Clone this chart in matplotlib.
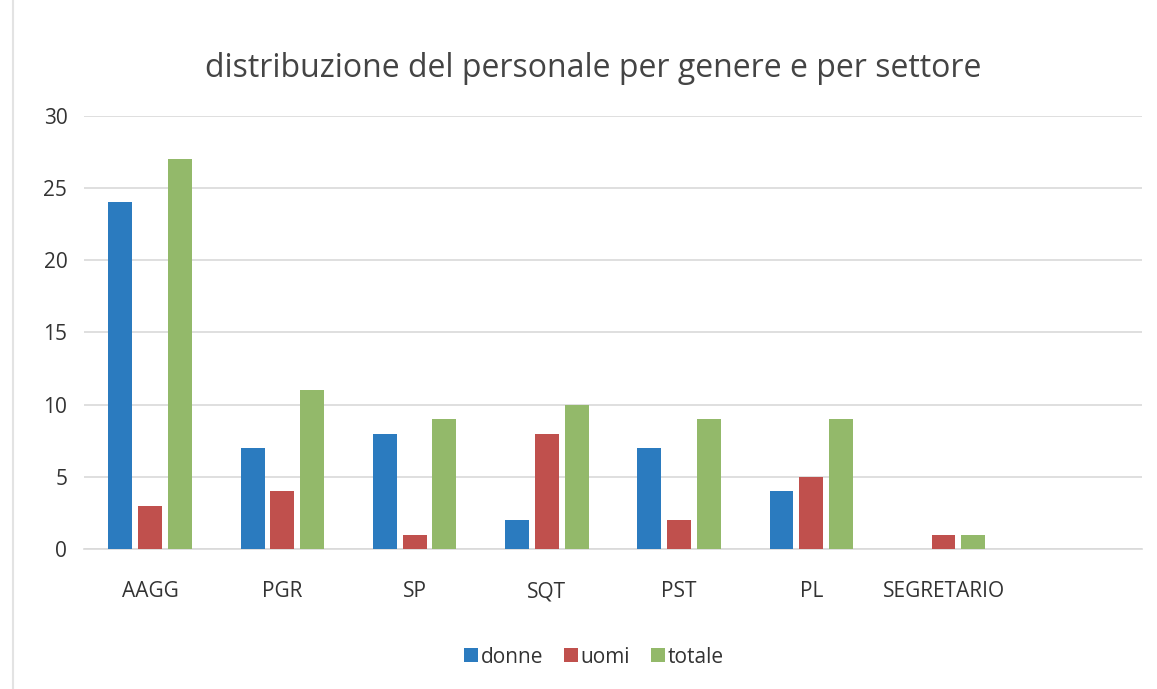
import numpy as np
import matplotlib

matplotlib.use("Agg")
import matplotlib.pyplot as plt

# data (last slot is an empty category)
settori = ["AAGG", "PGR", "SP", "SQT", "PST", "PL", "SEGRETARIO", ""]
donne = [24, 7, 8, 2, 7, 4, 0, 0]
uomi = [3, 4, 1, 8, 2, 5, 1, 0]
totale = [27, 11, 9, 10, 9, 9, 1, 0]
serie_nomi = ["donne", "uomi", "totale"]
colori = ["#2b7bbf", "#c0504d", "#93b96a"]

plt.rcParams["font.family"] = ["Open Sans", "DejaVu Sans"]

fig = plt.figure(figsize=(11.57, 6.89), dpi=100)
ax = fig.add_axes([0.0726, 0.203, 0.9144, 0.629])

x = np.arange(len(settori))
w = 0.18
step = 0.225
for k, (vals, nome, col) in enumerate(zip([donne, uomi, totale], serie_nomi, colori)):
    ax.bar(x + (k - 1) * step, vals, width=w, color=col, label=nome, zorder=3)

ax.set_xlim(-0.5, len(settori) - 0.5)
ax.set_ylim(0, 30)
ax.set_yticks(range(0, 31, 5))
ax.set_xticks(x)
ax.set_xticklabels(settori)
ax.yaxis.grid(True, color="#d9d9d9", linewidth=1.2, zorder=0)
for s in ["top", "right", "left"]:
    ax.spines[s].set_visible(False)
ax.spines["bottom"].set_color("#d9d9d9")
ax.spines["bottom"].set_linewidth(1.2)
ax.tick_params(axis="both", length=0, colors="#333333", labelsize=15)
ax.tick_params(axis="y", pad=12)
ax.tick_params(axis="x", pad=23)

fig.text(0.513, 0.901, "distribuzione del personale per genere e per settore",
         ha="center", va="center", fontsize=23, color="#444444")

ax.legend(loc="center", bbox_to_anchor=(0.482, -0.249), ncol=3, frameon=False,
          fontsize=15, handlelength=0.65, handleheight=0.65, handletextpad=0.15,
          columnspacing=1.0, labelcolor="#333333")

fig.add_artist(plt.Line2D([0.011, 0.011], [0.0, 1.0], color="#e3e3e3", linewidth=1.5))

fig.savefig("out.png", dpi=100)
